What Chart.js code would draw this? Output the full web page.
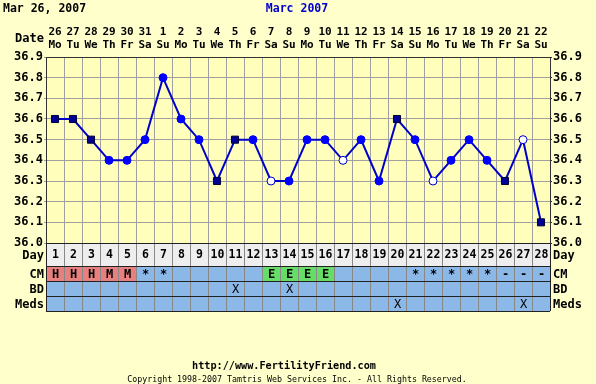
<!DOCTYPE html>
<html>
<head>
<meta charset="utf-8">
<script src="https://cdn.jsdelivr.net/npm/chart.js@4"></script>
<style>
html,body{margin:0;padding:0;background:#FFFFCC;}
#wrap{width:596px;height:384px;position:relative;}
</style>
</head>
<body>
<div id="wrap"><canvas id="c" width="596" height="384"></canvas></div>
<script>
// ---- data ----
const dateNums = ['26','27','28','29','30','31','1','2','3','4','5','6','7','8','9','10','11','12','13','14','15','16','17','18','19','20','21','22'];
const weekdays = ['Mo','Tu','We','Th','Fr','Sa','Su','Mo','Tu','We','Th','Fr','Sa','Su','Mo','Tu','We','Th','Fr','Sa','Su','Mo','Tu','We','Th','Fr','Sa','Su'];
const cycleDays = ['1','2','3','4','5','6','7','8','9','10','11','12','13','14','15','16','17','18','19','20','21','22','23','24','25','26','27','28'];
const temps = [36.6,36.6,36.5,36.4,36.4,36.5,36.8,36.6,36.5,36.3,36.5,36.5,36.3,36.3,36.5,36.5,36.4,36.5,36.3,36.6,36.5,36.3,36.4,36.5,36.4,36.3,36.5,36.1];
// s = square, c = filled circle, o = open circle
const tempKinds = ['s','s','s','c','c','c','c','c','c','s','s','c','o','c','c','c','o','c','c','s','c','o','c','c','c','s','o','s'];
const cmRow = ['H','H','H','M','M','*','*','','','','','','E','E','E','E','','','','','*','*','*','*','*','-','-','-'];
const bdRow = ['','','','','','','','','','','X','','','X','','','','','','','','','','','','','',''];
const medsRow = ['','','','','','','','','','','','','','','','','','','','X','','','','','','','X',''];
const headerLeft = 'Mar 26, 2007';
const headerCenter = 'Marc 2007';
const footerUrl = 'http://www.FertilityFriend.com';
const footerCopy = 'Copyright 1998-2007 Tamtris Web Services Inc. - All Rights Reserved.';

// ---- styles ----
const MONO = '"DejaVu Sans Mono", monospace';
const fontB = {family: 'DejaVu Sans Mono', size: 12, weight: 'bold'};
const kindStyle = {
  s: {style: 'rect', r: 5, bg: '#000099', border: '#000033'},
  c: {style: 'circle', r: 4, bg: '#0000FF', border: '#0000FF'},
  o: {style: 'circle', r: 4, bg: '#FFFFFF', border: '#0000CC'}
};

const extras = {
  id: 'extras',
  beforeDraw(chart) {
    const {ctx, chartArea: a} = chart;
    ctx.save();
    ctx.fillStyle = '#FFFFCC';
    ctx.fillRect(0, 0, chart.width, chart.height);
    ctx.fillStyle = '#FFFFBB';
    ctx.fillRect(a.left, a.top, a.right - a.left, a.bottom - a.top);
    ctx.restore();
  },
  afterDraw(chart) {
    const {ctx, chartArea: a} = chart;
    const xs = chart.scales.x;
    const n = cycleDays.length;
    const colW = (a.right - a.left) / n;
    ctx.save();
    // header
    ctx.font = 'bold 11.5px ' + MONO;
    ctx.textBaseline = 'middle';
    ctx.fillStyle = '#000';
    ctx.textAlign = 'left';
    ctx.fillText(headerLeft, 3, 9);
    ctx.fillStyle = '#0000CC';
    ctx.textAlign = 'center';
    ctx.fillText(headerCenter, 297, 9);
    ctx.fillStyle = '#000';
    ctx.textAlign = 'right';
    ctx.font = 'bold 12px ' + MONO;
    ctx.fillText('Date', a.left - 2, 39);

    // table rows
    const rows = [
      {label: 'Day', vals: cycleDays, top: 243, bot: 266},
      {label: 'CM', vals: cmRow, top: 266, bot: 281},
      {label: 'BD', vals: bdRow, top: 281, bot: 296},
      {label: 'Meds', vals: medsRow, top: 296, bot: 311}
    ];
    rows.forEach((row, ri) => {
      for (let i = 0; i < n; i++) {
        const cx = xs.getPixelForValue(i);
        const x0 = cx - colW / 2;
        let bg = ri === 0 ? '#EEEEEE' : '#8CB8E8';
        const v = row.vals[i];
        if (ri === 1 && (v === 'H' || v === 'M')) bg = '#E88080';
        if (ri === 1 && v === 'E') bg = '#66DD66';
        ctx.fillStyle = bg;
        ctx.fillRect(x0, row.top, colW, row.bot - row.top);
      }
    });
    // vertical lines
    ctx.strokeStyle = '#888';
    ctx.lineWidth = 1;
    for (let i = 1; i < n; i++) {
      const x = Math.round(a.left + i * colW) + 0.5;
      ctx.beginPath(); ctx.moveTo(x, 243); ctx.lineTo(x, 311); ctx.stroke();
    }
    ctx.strokeStyle = '#222';
    [243, 266, 281, 296, 311].forEach(y => {
      ctx.beginPath(); ctx.moveTo(a.left, y + 0.5); ctx.lineTo(a.right, y + 0.5); ctx.stroke();
    });
    [a.left, a.right].forEach(x => {
      ctx.beginPath(); ctx.moveTo(Math.round(x) + 0.5, 243); ctx.lineTo(Math.round(x) + 0.5, 311); ctx.stroke();
    });
    // texts
    rows.forEach((row, ri) => {
      const cy = (row.top + row.bot) / 2 + 1;
      ctx.fillStyle = '#000';
      ctx.font = 'bold 12px ' + MONO;
      ctx.textAlign = 'right';
      ctx.fillText(row.label, a.left - 2, cy);
      ctx.textAlign = 'left';
      ctx.fillText(row.label, a.right + 3, cy);
      ctx.textAlign = 'center';
      ctx.font = (ri >= 2 ? '' : 'bold ') + (ri === 0 ? '11.5px ' : '12px ') + MONO;
      for (let i = 0; i < n; i++) {
        if (row.vals[i]) ctx.fillText(row.vals[i], xs.getPixelForValue(i) + 0.5, cy);
      }
    });
    // footer
    ctx.fillStyle = '#000';
    ctx.textAlign = 'center';
    ctx.font = 'bold 10.2px ' + MONO;
    ctx.fillText(footerUrl, 284, 366);
    ctx.font = '8.3px ' + MONO;
    ctx.fillText(footerCopy, 297, 380);
    ctx.restore();
  }
};

const topLabels = dateNums.map((d, i) => [d, weekdays[i]]);

new Chart(document.getElementById('c'), {
  type: 'line',
  data: {
    labels: topLabels,
    datasets: [{
      data: temps,
      borderColor: '#0000CC',
      borderWidth: 2,
      tension: 0,
      pointStyle: temps.map((_, i) => kindStyle[tempKinds[i]].style),
      pointRadius: temps.map((_, i) => kindStyle[tempKinds[i]].r),
      pointBackgroundColor: temps.map((_, i) => kindStyle[tempKinds[i]].bg),
      pointBorderColor: temps.map((_, i) => kindStyle[tempKinds[i]].border),
      pointBorderWidth: 1,
      yAxisID: 'y'
    }]
  },
  options: {
    responsive: false,
    animation: false,
    layout: {padding: {left: 0, right: 0, top: 0, bottom: 141}},
    plugins: {legend: {display: false}, tooltip: {enabled: false}},
    scales: {
      x: {
        type: 'category',
        position: 'top',
        offset: true,
        grid: {offset: true, color: '#A0A0A0', drawTicks: false},
        border: {display: true, color: '#333'},
        ticks: {font: {family: 'DejaVu Sans Mono', size: 11, weight: 'bold', lineHeight: '13px'}, color: '#000', padding: 5, maxRotation: 0, autoSkip: false},
        afterFit(s) { s.height = 57; }
      },
      y: {
        position: 'left',
        min: 36.0, max: 36.9,
        ticks: {stepSize: 0.1, font: fontB, color: '#000', padding: 1, callback: v => Number(v).toFixed(1)},
        grid: {color: '#A0A0A0', tickLength: 2},
        border: {display: true, color: '#333'},
        afterFit(s) { s.width = 46; }
      },
      y2: {
        position: 'right',
        min: 36.0, max: 36.9,
        ticks: {stepSize: 0.1, font: fontB, color: '#000', padding: 1, callback: v => Number(v).toFixed(1)},
        grid: {drawOnChartArea: false, color: '#333', tickLength: 2},
        border: {display: true, color: '#333'},
        afterFit(s) { s.width = 46; }
      }
    }
  },
  plugins: [extras]
});
</script>
</body>
</html>
